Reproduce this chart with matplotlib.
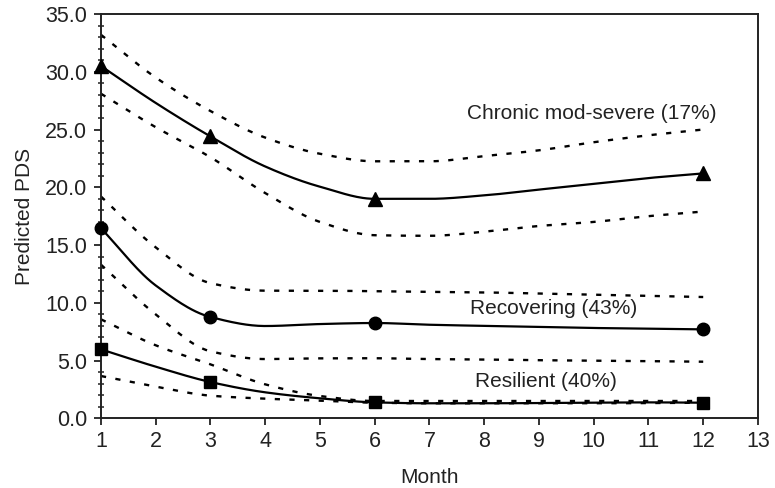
import numpy as np
import matplotlib
matplotlib.use("Agg")
import matplotlib.pyplot as plt
from matplotlib.ticker import MultipleLocator, FormatStrFormatter

plt.rcParams['font.family'] = ['Liberation Sans', 'DejaVu Sans']

months = [1, 2, 3, 4, 5, 6, 7, 8, 9, 10, 11, 12]
marker_months = [1, 3, 6, 12]

chronic_mean = [30.5, 27.3, 24.4, 21.8, 20.05, 19.0, 19.0, 19.3, 19.8, 20.3, 20.8, 21.2]
chronic_upper = [33.2, 29.5, 26.6, 24.3, 22.9, 22.25, 22.25, 22.7, 23.2, 23.9, 24.5, 25.0]
chronic_lower = [28.1, 25.2, 22.6, 19.5, 17.0, 15.85, 15.8, 16.15, 16.65, 17.0, 17.5, 17.9]

recov_mean = [16.45, 11.5, 8.77, 7.99, 8.16, 8.25, 8.1, 8.0, 7.9, 7.82, 7.76, 7.7]
recov_upper = [19.2, 14.8, 11.7, 11.05, 11.05, 11.0, 10.95, 10.9, 10.8, 10.7, 10.6, 10.5]
recov_lower = [13.3, 9.0, 5.8, 5.13, 5.19, 5.2, 5.13, 5.1, 5.03, 5.0, 4.95, 4.9]

resil_mean = [5.97, 4.47, 3.14, 2.25, 1.73, 1.38, 1.3, 1.3, 1.32, 1.35, 1.38, 1.35]
resil_upper = [8.57, 6.32, 4.67, 2.94, 1.93, 1.5, 1.5, 1.5, 1.5, 1.5, 1.5, 1.5]
resil_lower = [3.66, 2.74, 1.96, 1.7, 1.53, 1.35, 1.3, 1.3, 1.3, 1.3, 1.32, 1.35]

labels = ["Chronic mod-severe (17%)", "Recovering (43%)", "Resilient (40%)"]
label_pos = [(7.68, 26.4), (7.74, 9.5), (7.83, 3.17)]


def pchip(x, y, xs):
    x = np.asarray(x, float); y = np.asarray(y, float)
    h = np.diff(x); d = np.diff(y) / h
    n = len(x); m = np.zeros(n)
    for k in range(1, n - 1):
        if d[k - 1] * d[k] > 0:
            w1 = 2 * h[k] + h[k - 1]; w2 = h[k] + 2 * h[k - 1]
            m[k] = (w1 + w2) / (w1 / d[k - 1] + w2 / d[k])
    m[0] = d[0]; m[-1] = d[-1]
    idx = np.clip(np.searchsorted(x, xs) - 1, 0, n - 2)
    t = (xs - x[idx]) / h[idx]
    h00 = 2 * t**3 - 3 * t**2 + 1; h10 = t**3 - 2 * t**2 + t
    h01 = -2 * t**3 + 3 * t**2; h11 = t**3 - t**2
    return h00 * y[idx] + h10 * h[idx] * m[idx] + h01 * y[idx + 1] + h11 * h[idx] * m[idx + 1]


fig = plt.figure(figsize=(7.75, 4.88), dpi=100)
ax = fig.add_axes([0.1303, 0.1428, 0.978 - 0.1303, 0.9713 - 0.1428])

xs = np.linspace(1, 12, 300)
series = [
    (chronic_mean, chronic_upper, chronic_lower, '^', 10),
    (recov_mean, recov_upper, recov_lower, 'o', 9),
    (resil_mean, resil_upper, resil_lower, 's', 8),
]
for mean, up, lo, mk, ms in series:
    for band in (up, lo):
        ax.plot(xs, pchip(months, band, xs), color='black', lw=1.7,
                dashes=(2.2, 4.0), dash_capstyle='butt')
    ax.plot(xs, pchip(months, mean, xs), color='black', lw=1.6)
    mv = [mean[months.index(m)] for m in marker_months]
    ax.plot(marker_months, mv, linestyle='none', marker=mk, ms=ms,
            color='black', clip_on=False, zorder=5)

for text, (tx, ty) in zip(labels, label_pos):
    ax.text(tx, ty, text, ha='left', va='center', fontsize=15, color='#222222')

ax.set_xlim(1, 13)
ax.set_ylim(0, 35)
ax.xaxis.set_major_locator(MultipleLocator(1))
ax.yaxis.set_major_locator(MultipleLocator(5))
ax.yaxis.set_minor_locator(MultipleLocator(1))
ax.yaxis.set_major_formatter(FormatStrFormatter('%.1f'))
ax.tick_params(axis='x', which='major', direction='out', length=5, width=1.3,
               labelsize=15.5, pad=4, top=False, colors='#222222')
ax.tick_params(axis='y', which='major', direction='out', length=5, width=1.3,
               labelsize=15.5, pad=5, right=False, colors='#222222')
ax.tick_params(axis='y', which='minor', direction='inout', length=5, width=1.1,
               right=False, colors='#222222')
for s in ax.spines.values():
    s.set_linewidth(1.4)
    s.set_color('#222222')

ax.set_xlabel('Month', fontsize=15, labelpad=12, color='#222222')
ax.set_ylabel('Predicted PDS', fontsize=15, labelpad=8, color='#222222')

fig.savefig('out.png', dpi=100)
